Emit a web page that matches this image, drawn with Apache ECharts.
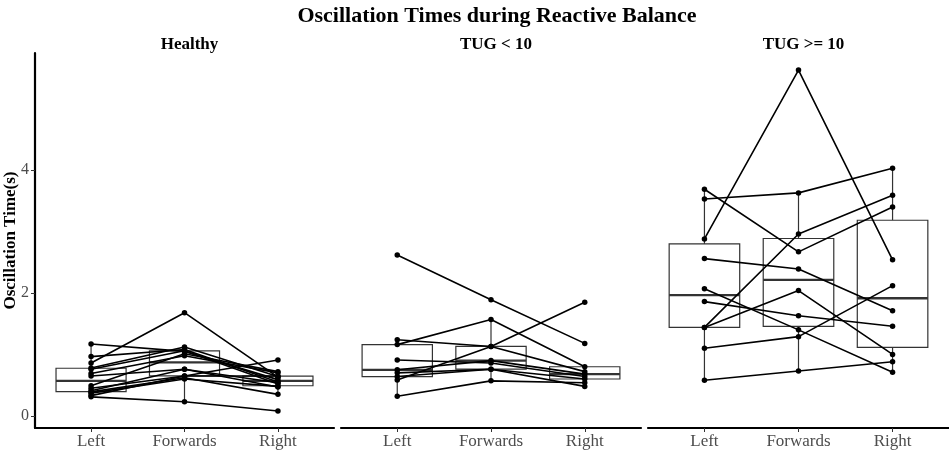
<!DOCTYPE html>
<html>
<head>
<meta charset="utf-8">
<script src="https://cdn.jsdelivr.net/npm/echarts@6/dist/echarts.min.js"></script>
<style>
  html, body { margin: 0; padding: 0; background: #fff; }
  #chart { width: 949px; height: 451px; }
</style>
</head>
<body>
<div id="chart"></div>
<script>
  'use strict'

  var categories = ['Left', 'Forwards', 'Right'];
  var groups = ['Healthy', 'TUG < 10', 'TUG >= 10'];
  var yTicks = [0, 2, 4];

  // one entry per subject, same index across the three directions
  var healthyLeft     = [1.17, 0.965, 0.86, 0.78, 0.76, 0.69, 0.65, 0.49, 0.45, 0.41, 0.39, 0.37, 0.33, 0.31];
  var healthyForwards = [1.05, 1.08, 1.68, 1.12, 1.06, 0.98, 0.76, 1.01, 0.65, 0.76, 0.62, 0.60, 0.65, 0.23];
  var healthyRight    = [0.59, 0.55, 0.63, 0.64, 0.52, 0.70, 0.47, 0.72, 0.91, 0.54, 0.35, 0.48, 0.65, 0.08];

  var tugLowLeft      = [2.62, 0.585, 0.32, 1.24, 1.16, 0.91, 0.75, 0.70, 0.64];
  var tugLowForwards  = [1.89, 1.13, 0.57, 1.13, 1.57, 0.86, 0.90, 0.76, 0.76];
  var tugLowRight     = [1.18, 1.85, 0.54, 0.72, 0.80, 0.64, 0.68, 0.60, 0.48];

  var tugHighLeft     = [3.69, 3.53, 2.88, 2.56, 2.07, 1.86, 1.44, 1.44, 1.10, 0.58];
  var tugHighForwards = [2.67, 3.63, 5.63, 2.39, 1.40, 1.63, 2.04, 2.96, 1.29, 0.73];
  var tugHighRight    = [3.40, 4.03, 2.54, 1.71, 0.71, 1.46, 1.00, 3.59, 2.12, 0.88];

  var panels = [
    [healthyLeft, healthyForwards, healthyRight],
    [tugLowLeft, tugLowForwards, tugLowRight],
    [tugHighLeft, tugHighForwards, tugHighRight]
  ];

  var font = 'Liberation Serif';
  var gridLefts = [35, 341, 648];
  var gridWidths = [299, 300, 301];

  // R type 7 quantile
  function quantile(sorted, p) {
    var h = (sorted.length - 1) * p;
    var lo = Math.floor(h);
    var hiVal = lo + 1 < sorted.length ? sorted[lo + 1] : sorted[lo];
    return sorted[lo] + (h - lo) * (hiVal - sorted[lo]);
  }

  function boxStats(values, x) {
    var s = values.slice().sort(function (a, b) { return a - b; });
    var q1 = quantile(s, 0.25), md = quantile(s, 0.5), q3 = quantile(s, 0.75);
    var iqr = q3 - q1;
    var lowW = s.filter(function (v) { return v >= q1 - 1.5 * iqr; })[0];
    var inside = s.filter(function (v) { return v <= q3 + 1.5 * iqr; });
    var highW = inside[inside.length - 1];
    return [x, lowW, q1, md, q3, highW];
  }

  function renderBox(params, api) {
    var x = api.value(0);
    var lo = api.coord([x, api.value(1)]);
    var q1 = api.coord([x, api.value(2)]);
    var md = api.coord([x, api.value(3)]);
    var q3 = api.coord([x, api.value(4)]);
    var hi = api.coord([x, api.value(5)]);
    var half = api.size([0.75, 0])[0] / 2;
    var stroke = '#333333';
    return {
      type: 'group',
      children: [
        { type: 'line', shape: { x1: lo[0], y1: lo[1], x2: q1[0], y2: q1[1] }, style: { stroke: stroke, lineWidth: 1.2 } },
        { type: 'line', shape: { x1: q3[0], y1: q3[1], x2: hi[0], y2: hi[1] }, style: { stroke: stroke, lineWidth: 1.2 } },
        { type: 'rect', shape: { x: q1[0] - half, y: q3[1], width: half * 2, height: q1[1] - q3[1] },
          style: { stroke: stroke, fill: '#fff', lineWidth: 1.2 } },
        { type: 'line', shape: { x1: md[0] - half, y1: md[1], x2: md[0] + half, y2: md[1] },
          style: { stroke: stroke, lineWidth: 2.3 } }
      ]
    };
  }

  var grids = [], xAxes = [], yAxes = [], series = [];
  var titles = [{
    text: 'Oscillation Times during Reactive Balance',
    left: 492, top: 0, textAlign: 'center',
    textStyle: { fontFamily: font, fontSize: 22, fontWeight: 'bold', color: '#000' }
  }];

  panels.forEach(function (panel, i) {
    grids.push({ left: gridLefts[i], width: gridWidths[i], top: 53, bottom: 23 });
    titles.push({
      text: groups[i],
      left: gridLefts[i] + gridWidths[i] / 2, top: 31, textAlign: 'center',
      textStyle: { fontFamily: font, fontSize: 17, fontWeight: 'bold', color: '#000' }
    });
    xAxes.push({
      gridIndex: i, type: 'value', min: -0.6, max: 2.6,
      splitLine: { show: false },
      axisLine: { show: true, onZero: false, lineStyle: { color: '#000', width: 2.2 } },
      axisTick: { show: true, customValues: [0, 1, 2], length: 4, lineStyle: { color: '#333' } },
      axisLabel: {
        customValues: [0, 1, 2], margin: 5,
        formatter: function (v) { return categories[Math.round(v)]; },
        fontFamily: font, fontSize: 17, color: '#4d4d4d'
      }
    });
    yAxes.push({
      gridIndex: i, type: 'value', min: -0.1975, max: 5.9075,
      splitLine: { show: false },
      name: i === 0 ? 'Oscillation Time(s)' : '',
      nameLocation: 'middle', nameGap: 16, nameMoveOverlap: false,
      nameTextStyle: { fontFamily: font, fontSize: 17, fontWeight: 'bold', color: '#000' },
      axisLine: { show: i === 0, onZero: false, lineStyle: { color: '#000', width: 2.2 } },
      axisTick: { show: i === 0, customValues: yTicks, length: 4, lineStyle: { color: '#333' } },
      axisLabel: {
        show: i === 0, customValues: yTicks, margin: 6,
        fontFamily: font, fontSize: 16, color: '#4d4d4d'
      }
    });

    series.push({
      type: 'custom',
      xAxisIndex: i, yAxisIndex: i,
      renderItem: renderBox,
      encode: { x: 0, y: [1, 2, 3, 4, 5] },
      data: panel.map(function (vals, k) { return boxStats(vals, k); }),
      silent: true, z: 1
    });

    panel[0].forEach(function (v, s) {
      series.push({
        type: 'line',
        xAxisIndex: i, yAxisIndex: i,
        data: [[0, panel[0][s]], [1, panel[1][s]], [2, panel[2][s]]],
        symbol: 'circle', symbolSize: 5.5,
        itemStyle: { color: '#000' },
        lineStyle: { color: '#000', width: 1.6 },
        silent: true, z: 3
      });
    });
  });

  var chart = echarts.init(document.getElementById('chart'));
  chart.setOption({
    animation: false,
    title: titles,
    grid: grids,
    xAxis: xAxes,
    yAxis: yAxes,
    series: series
  });
</script>
</body>
</html>
